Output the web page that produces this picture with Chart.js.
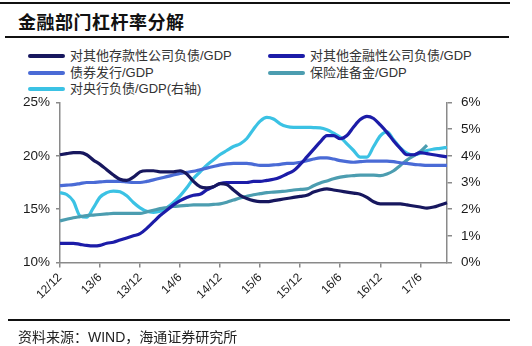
<!DOCTYPE html>
<html><head><meta charset="utf-8">
<script src="https://cdn.jsdelivr.net/npm/chart.js@4/dist/chart.umd.min.js"></script>
<style>
html,body{margin:0;padding:0;background:#fff;}
body{width:532px;height:346px;position:relative;overflow:hidden;font-family:"Liberation Sans","Noto Sans CJK SC",sans-serif;}
.hl{position:absolute;height:0;border-top:2px solid #111;}
#title{position:absolute;left:18px;top:8px;font-size:18px;font-weight:bold;color:#111;font-family:"Noto Sans CJK SC",sans-serif;letter-spacing:0.5px;}
#src{position:absolute;left:18px;top:326px;font-size:14px;color:#222;font-family:"Liberation Sans","Noto Sans CJK SC",sans-serif;}
.lg{position:absolute;font-size:13px;color:#333;white-space:nowrap;line-height:16px;}
.lg i{display:inline-block;width:37px;height:4px;border-radius:2px;vertical-align:middle;margin-right:5px;position:relative;top:-1px;}
#c{position:absolute;left:0;top:0;}
</style></head><body>
<div class="hl" style="left:0;top:2px;width:510px;"></div>
<div id="title">金融部门杠杆率分解</div>
<div class="hl" style="left:5px;top:36px;width:504px;"></div>
<div id="legend"></div>
<canvas id="c" width="532" height="346"></canvas>
<div class="hl" style="left:8px;top:319px;width:502px;"></div>
<div id="src">资料来源：WIND，海通证券研究所</div>
<script>
// Monthly categories 12/12 .. 17/10
const categories = [];
(function(){let y=12,m=12;for(let i=0;i<59;i++){categories.push(y+'/'+m);m++;if(m>12){m=1;y++;}}})();

const seriesNames = ['对其他存款性公司负债/GDP','对其他金融性公司负债/GDP','债券发行/GDP','保险准备金/GDP','对央行负债/GDP(右轴)'];

const depositCorp = [20.1,20.2,20.3,20.3,20.1,19.6,19.2,18.7,18.2,17.8,17.7,18.0,18.5,18.6,18.6,18.5,18.5,18.5,18.6,18.3,17.6,17.1,17.0,17.1,17.4,17.3,16.8,16.3,16.0,15.8,15.7,15.7,15.8,15.9,16.0,16.1,16.2,16.3,16.6,16.8,16.9,16.8,16.7,16.6,16.5,16.4,16.1,15.7,15.5,15.5,15.5,15.5,15.4,15.3,15.2,15.1,15.2,15.4,15.6];
const otherFinCorp = [11.8,11.8,11.8,11.7,11.6,11.55,11.6,11.8,11.9,12.1,12.3,12.5,12.7,13.2,13.8,14.4,14.9,15.4,15.8,16.1,16.3,16.4,16.8,17.1,17.4,17.5,17.5,17.5,17.5,17.6,17.6,17.7,17.8,18.0,18.3,18.6,19.2,19.9,20.6,21.3,21.9,21.9,21.6,21.9,22.7,23.4,23.7,23.5,22.9,22.2,21.4,20.7,20.1,20.1,20.3,20.2,20.1,20.0,19.9];
const bondIssue = [17.2,17.25,17.3,17.4,17.5,17.5,17.55,17.6,17.6,17.6,17.55,17.5,17.5,17.6,17.75,17.9,18.05,18.2,18.35,18.45,18.55,18.7,18.85,19.0,19.15,19.25,19.3,19.3,19.3,19.2,19.1,19.1,19.15,19.2,19.3,19.3,19.4,19.55,19.7,19.8,19.8,19.7,19.55,19.45,19.4,19.45,19.5,19.5,19.5,19.5,19.45,19.35,19.3,19.2,19.15,19.1,19.1,19.1,19.1];
const insurance = [13.9,14.05,14.2,14.3,14.4,14.45,14.5,14.55,14.6,14.6,14.6,14.6,14.6,14.75,14.9,15.05,15.15,15.25,15.3,15.35,15.4,15.4,15.4,15.45,15.5,15.65,15.85,16.05,16.2,16.35,16.45,16.55,16.6,16.65,16.7,16.8,16.85,16.9,17.2,17.45,17.65,17.85,18.0,18.1,18.15,18.2,18.2,18.2,18.15,18.3,18.6,19.1,19.6,20.0,20.4,21.0,null,null,null];
const centralBank = [2.62,2.55,2.3,1.75,1.7,2.05,2.45,2.62,2.68,2.65,2.5,2.25,2.05,1.92,1.88,1.92,2.05,2.25,2.5,2.8,3.15,3.4,3.65,3.85,4.05,4.2,4.35,4.45,4.65,5.0,5.3,5.44,5.38,5.2,5.1,5.07,5.07,5.07,5.06,5.05,4.98,4.85,4.7,4.45,4.2,3.95,3.95,4.35,4.75,4.9,4.6,4.3,4.1,4.03,4.1,4.2,4.25,4.28,4.32];

const colors = ['#17175e','#1c1ca8','#4a6bd6','#4c9db0','#3bc2e4'];
const seriesData = [depositCorp, otherFinCorp, bondIssue, insurance, centralBank];
const axisOf = ['yL','yL','yL','yL','yR'];

// HTML legend
const legendPos = [[28,48],[268,48],[28,65],[268,65],[28,81]];
const lg = document.getElementById('legend');
seriesNames.forEach((n,i)=>{
  const d=document.createElement('div');d.className='lg';
  d.style.left=legendPos[i][0]+'px';d.style.top=legendPos[i][1]+'px';
  d.innerHTML='<i style="background:'+colors[i]+'"></i>'+n;
  lg.appendChild(d);
});

const PL=60, PR=447, PT=102.5, PB=262.5, W=532, H=346;
new Chart(document.getElementById('c'),{
  type:'line',
  data:{labels:categories,datasets:seriesData.map((d,i)=>({
    label:seriesNames[i],data:d,borderColor:colors[i],backgroundColor:colors[i],
    borderWidth:3.2,pointRadius:0,tension:0.4,yAxisID:axisOf[i],spanGaps:false,
    cubicInterpolationMode:'monotone'
  }))},
  options:{
    responsive:false,animation:false,
    layout:{padding:{top:PT,left:0,right:0,bottom:0}},
    plugins:{legend:{display:false},tooltip:{enabled:false}},
    scales:{
      x:{type:'category',offset:false,
        afterFit:s=>{s.height=H-PB;},
        border:{display:true,color:'#8a8a8a',width:1.5},
        grid:{drawOnChartArea:false,drawTicks:true,tickLength:5,color:'#8a8a8a',lineWidth:1.5},
        ticks:{autoSkip:false,maxRotation:45,minRotation:45,color:'#1a1a1a',padding:3,
          font:{family:'"Liberation Sans",Arial,sans-serif',size:12},
          callback:function(v,i){return i%6===0?this.getLabelForValue(v):null;}}
      },
      yL:{position:'left',min:10,max:25,
        afterFit:s=>{s.width=PL;},
        border:{display:true,color:'#8a8a8a',width:1.5},
        grid:{drawOnChartArea:false,tickLength:4,color:'#8a8a8a',lineWidth:1.5},
        ticks:{stepSize:5,color:'#1a1a1a',padding:6,font:{family:'"Liberation Sans",Arial,sans-serif',size:13.5},callback:v=>v+'%'}
      },
      yR:{position:'right',min:0,max:6,
        afterFit:s=>{s.width=W-PR;},
        border:{display:true,color:'#8a8a8a',width:1.5},
        grid:{drawOnChartArea:false,tickLength:5,color:'#8a8a8a',lineWidth:1.5},
        ticks:{stepSize:1,color:'#1a1a1a',padding:9,font:{family:'"Liberation Sans",Arial,sans-serif',size:13.5},callback:v=>v+'%'}
      }
    }
  }
});
</script>
</body></html>
